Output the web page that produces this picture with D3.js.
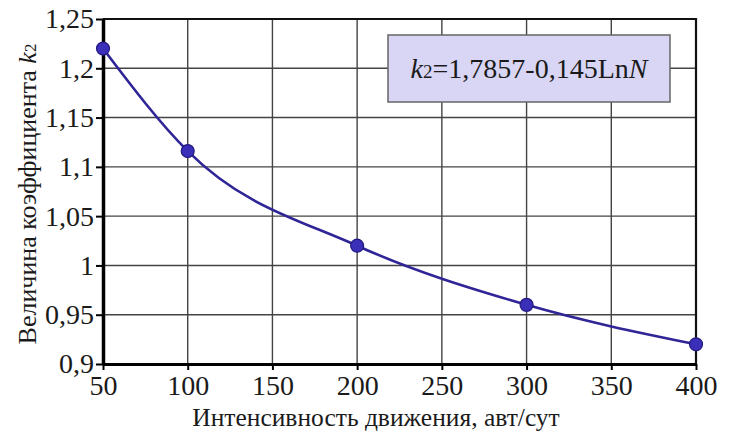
<!DOCTYPE html>
<html>
<head>
<meta charset="utf-8">
<script src="https://cdn.jsdelivr.net/npm/d3@7"></script>
<style>
  body { margin: 0; background: #fff; }
  svg text { font-family: "Liberation Serif", "Times New Roman", "DejaVu Serif", serif !important; fill: #1a1a1a; }
</style>
</head>
<body>
<script>
'use strict';

// data
const intensity = [50, 100, 200, 300, 400];
const k2Values = [1.22, 1.116, 1.02, 0.96, 0.92];
const xTicks = [50, 100, 150, 200, 250, 300, 350, 400];
const yTicks = [0.9, 0.95, 1, 1.05, 1.1, 1.15, 1.2, 1.25];
const xTitle = "Интенсивность движения, авт/сут";
const yTitle = "Величина коэффициента ";

const width = 730, height = 432;
const margin = { left: 103, right: 34, top: 19, bottom: 68 };
const serif = '"Liberation Serif", "Times New Roman", serif';

let svg = d3.select('body').append('svg')
  .attr('width', width)
  .attr('height', height);

// scales
let xScale = d3.scaleLinear()
  .domain([50, 400])
  .range([margin.left, width - margin.right]);
let yScale = d3.scaleLinear()
  .domain([0.9, 1.25])
  .range([height - margin.bottom, margin.top]);

const fmt = (d) => String(d).replace('.', ',');

// grid lines
svg.append('g')
  .selectAll('line')
  .data(xTicks)
  .enter().append('line')
    .attr('x1', (d) => xScale(d)).attr('x2', (d) => xScale(d))
    .attr('y1', yScale(0.9)).attr('y2', yScale(1.25))
    .attr('stroke', '#444').attr('stroke-width', 1.4);
svg.append('g')
  .selectAll('line')
  .data(yTicks)
  .enter().append('line')
    .attr('x1', xScale(50)).attr('x2', xScale(400))
    .attr('y1', (d) => yScale(d)).attr('y2', (d) => yScale(d))
    .attr('stroke', '#444').attr('stroke-width', 1.4);

// frame: top and right
svg.append('path')
  .attr('d', `M${xScale(50)},${yScale(1.25)}H${xScale(400)}V${yScale(0.9)}`)
  .attr('fill', 'none').attr('stroke', '#111').attr('stroke-width', 2.2);

// axes
let xAxis = d3.axisBottom(xScale).tickValues(xTicks).tickFormat(fmt)
  .tickSize(6).tickPadding(5).tickSizeOuter(0);
let gx = svg.append('g')
  .attr('transform', `translate(0, ${yScale(0.9)})`)
  .attr('font-family', serif)
  .call(xAxis);
gx.select('.domain').attr('stroke', '#000').attr('stroke-width', 3);
gx.selectAll('.tick line').attr('stroke', '#000').attr('stroke-width', 2);
gx.selectAll('.tick text')
  .style('font-family', serif)
  .attr('font-size', 28).attr('fill', '#1a1a1a');

let yAxis = d3.axisLeft(yScale).tickValues(yTicks).tickFormat(fmt)
  .tickSize(7).tickSizeOuter(0);
let gy = svg.append('g')
  .attr('transform', `translate(${xScale(50)}, 0)`)
  .attr('font-family', serif)
  .call(yAxis);
gy.select('.domain').attr('stroke', '#000').attr('stroke-width', 3.5);
gy.selectAll('.tick line').attr('stroke', '#000').attr('stroke-width', 2);
gy.selectAll('.tick text')
  .style('font-family', serif)
  .attr('font-size', 28).attr('fill', '#1a1a1a').attr('x', -9);

// curve through the points
let line = d3.line()
  .x((d, i) => xScale(intensity[i]))
  .y((d) => yScale(d))
  .curve(d3.curveMonotoneX);
svg.append('path')
  .datum(k2Values)
  .attr('d', line)
  .attr('fill', 'none')
  .attr('stroke', '#2f2597')
  .attr('stroke-width', 2.6);

// points
svg.selectAll('.point')
  .data(k2Values)
  .enter().append('circle')
    .attr('class', 'point')
    .attr('cx', (d, i) => xScale(intensity[i]))
    .attr('cy', (d) => yScale(d))
    .attr('r', 6.5)
    .attr('fill', '#3a2fb8')
    .attr('stroke', '#231a80')
    .attr('stroke-width', 1.2);

// formula box
svg.append('rect')
  .attr('x', 388).attr('y', 35)
  .attr('width', 282).attr('height', 67)
  .attr('fill', '#d8d6f4')
  .attr('stroke', '#666').attr('stroke-width', 1.5);
let formula = svg.append('text')
  .attr('x', 529).attr('y', 78)
  .attr('text-anchor', 'middle')
  .style('font-family', serif)
  .attr('font-size', 28);
formula.append('tspan').attr('font-style', 'italic').text('k');
formula.append('tspan').attr('font-size', 19).text('2');
formula.append('tspan').text('=1,7857-0,145Ln');
formula.append('tspan').attr('font-style', 'italic').text('N');

// axis titles
svg.append('text')
  .attr('x', 376).attr('y', 426)
  .attr('text-anchor', 'middle')
  .style('font-family', serif)
  .attr('font-size', 25.5)
  .text(xTitle);

let yt = svg.append('text')
  .attr('transform', 'translate(36, 194) rotate(-90)')
  .attr('text-anchor', 'middle')
  .style('font-family', serif)
  .attr('font-size', 26);
yt.append('tspan').text(yTitle);
yt.append('tspan').attr('font-style', 'italic').text('k');
yt.append('tspan').attr('font-size', 17).text('2');
</script>
</body>
</html>
